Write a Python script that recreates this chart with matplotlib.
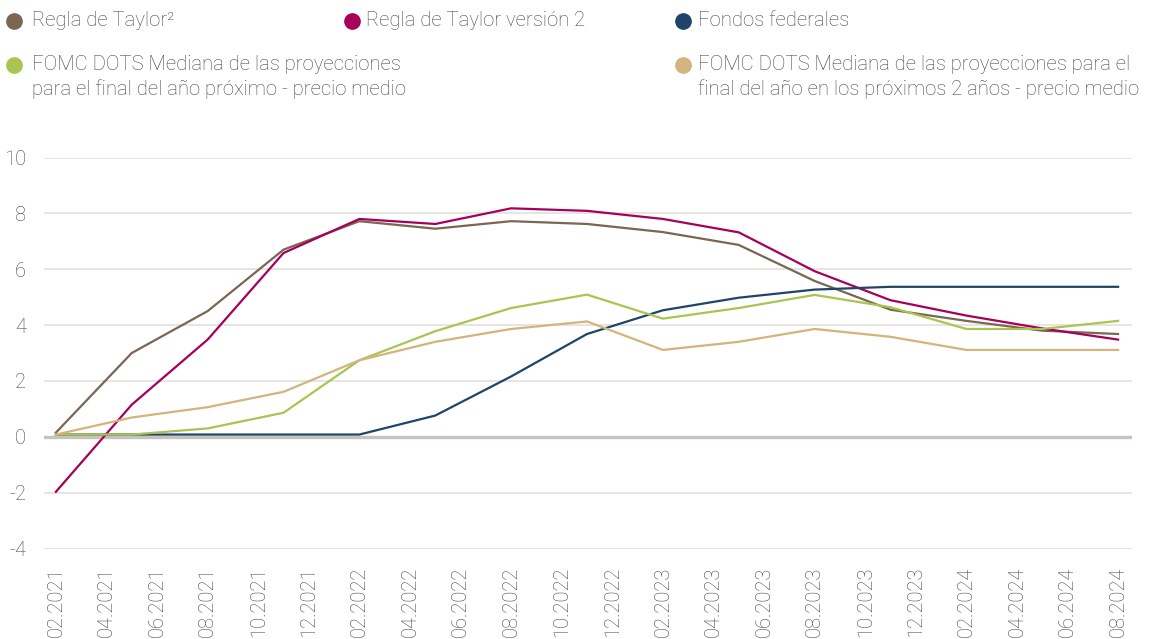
import matplotlib
matplotlib.use("Agg")
import matplotlib.pyplot as plt
from matplotlib.lines import Line2D

plt.rcParams['font.family'] = ['Roboto', 'DejaVu Sans']
plt.rcParams['font.weight'] = 'light'

# Data (quarterly observations, months since 02.2021)
months = [0, 3, 6, 9, 12, 15, 18, 21, 24, 27, 30, 33, 36, 39, 42]
taylor = [0.15, 3.0, 4.5, 6.7, 7.72, 7.45, 7.72, 7.62, 7.33, 6.87, 5.58, 4.55, 4.15, 3.8, 3.68]
taylor_v2 = [-1.97, 1.15, 3.48, 6.58, 7.8, 7.62, 8.18, 8.09, 7.8, 7.32, 5.93, 4.89, 4.34, 3.88, 3.48]
fed_funds = [0.08, 0.08, 0.08, 0.08, 0.08, 0.76, 2.16, 3.68, 4.53, 4.98, 5.27, 5.37, 5.37, 5.37, 5.37]
dots_next = [0.08, 0.08, 0.3, 0.86, 2.74, 3.78, 4.61, 5.09, 4.23, 4.61, 5.08, 4.64, 3.86, 3.86, 4.15]
dots_2y = [0.08, 0.69, 1.06, 1.61, 2.74, 3.4, 3.86, 4.13, 3.11, 3.4, 3.86, 3.58, 3.11, 3.11, 3.11]

tick_months = list(range(0, 43, 2))
tick_labels = ['02.2021', '04.2021', '06.2021', '08.2021', '10.2021', '12.2021',
               '02.2022', '04.2022', '06.2022', '08.2022', '10.2022', '12.2022',
               '02.2023', '04.2023', '06.2023', '08.2023', '10.2023', '12.2023',
               '02.2024', '04.2024', '06.2024', '08.2024']
y_ticks = [-4, -2, 0, 2, 4, 6, 8, 10]

series = [
    ("Regla de Taylor²", taylor, "#7a6652"),
    ("Regla de Taylor versión 2", taylor_v2, "#a6005a"),
    ("Fondos federales", fed_funds, "#1f4468"),
    ("FOMC DOTS Mediana de las proyecciones\npara el final del año próximo - precio medio", dots_next, "#a9c451"),
    ("FOMC DOTS Mediana de las proyecciones para el\nfinal del año en los próximos 2 años - precio medio", dots_2y, "#d3b47c"),
]

W, H = 1157, 639
fig = plt.figure(figsize=(W / 100, H / 100), dpi=100)
ax = fig.add_axes([44 / W, 1 - 548.5 / H, (1132 - 44) / W, (548.5 - 157.5) / H])

text_color = "#474747"
for yv in y_ticks:
    if yv == 0:
        continue
    ax.axhline(yv, color="#e3e0dc", lw=1.2, zorder=0)
ax.axhline(0, color="#c6c3be", lw=2.4, zorder=1)

order = [4, 3, 2, 0, 1]
for i in order:
    name, vals, col = series[i]
    ax.plot(months, vals, color=col, lw=1.6, zorder=3 + i, solid_joinstyle='round')

ax.set_xlim(-0.47, 42.55)
ax.set_ylim(-4, 10)
ax.set_yticks(y_ticks)
ax.set_yticklabels([str(v) for v in y_ticks])
ax.set_xticks(tick_months)
ax.set_xticklabels(tick_labels, rotation=90)
ax.tick_params(axis='both', length=0, labelsize=14.5, colors=text_color)
ax.tick_params(axis='y', pad=13)
ax.tick_params(axis='x', pad=13)
for s in ax.spines.values():
    s.set_visible(False)

# Legend (manual layout)
leg_pos = [
    (14, 21, 32),
    (352, 21, 366),
    (683, 21, 698),
    (14, 65, 32),
    (683, 65, 698),
]
for (name, vals, col), (cx, cy, tx) in zip(series, leg_pos):
    fig.add_artist(Line2D([cx / W], [1 - cy / H], marker='o', markersize=11,
                          color=col, lw=0, transform=fig.transFigure))
    for k, line in enumerate(name.split('\n')):
        fig.text(tx / W, 1 - (cy + 24 * k) / H, line, fontsize=14.6, color=text_color,
                 va='center', ha='left')

fig.savefig("out.png", dpi=100)
